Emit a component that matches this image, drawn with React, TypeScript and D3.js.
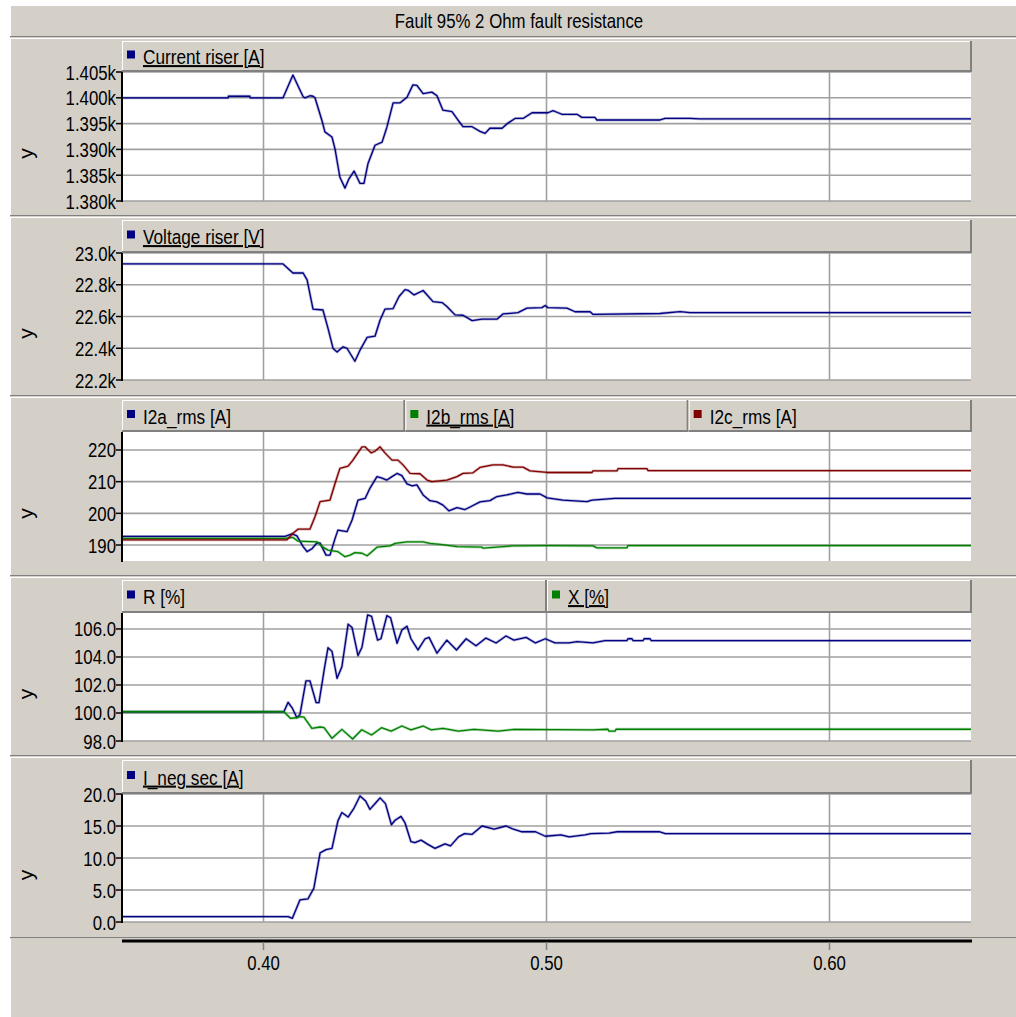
import React from 'react';
import * as d3 from 'd3';

type Pt = [number, number];

// ---------- data (time in s, value in units of the axis) ----------
const xTicks = [0.4, 0.5, 0.6];

const currentRiser: Pt[] = [
  [0.35, 1400.0], [0.3875, 1400.0], [0.3876, 1400.3], [0.3952, 1400.3], [0.3953, 1400.0], [0.4069, 1400.0],
  [0.4104, 1404.4], [0.414, 1400.2], [0.4147, 1400.0], [0.4164, 1400.4], [0.4175, 1400.3], [0.4182, 1400.0],
  [0.4207, 1395.5], [0.4217, 1393.4], [0.4242, 1392.4], [0.4253, 1390.0], [0.427, 1384.6], [0.4288, 1382.5],
  [0.4302, 1384.3], [0.432, 1385.8], [0.4341, 1383.4], [0.4355, 1383.4], [0.4369, 1387.2], [0.4394, 1390.8],
  [0.4419, 1391.4], [0.4436, 1394.3], [0.4458, 1399.0], [0.4482, 1399.0], [0.4507, 1400.1], [0.4528, 1402.5],
  [0.4542, 1402.4], [0.4564, 1400.8], [0.4595, 1401.1], [0.4613, 1400.4], [0.4634, 1397.6], [0.4666, 1397.3],
  [0.4687, 1395.7], [0.4705, 1394.4], [0.4737, 1394.4], [0.4765, 1393.5], [0.4783, 1393.1], [0.48, 1394.1],
  [0.4843, 1394.1], [0.4864, 1395.1], [0.4889, 1396.0], [0.4917, 1396.0], [0.4949, 1397.1], [0.5005, 1397.1],
  [0.5023, 1397.5], [0.5041, 1397.1], [0.5055, 1396.8], [0.5108, 1396.8], [0.5125, 1396.2], [0.5171, 1396.2],
  [0.5178, 1395.7], [0.5401, 1395.7], [0.5419, 1396.0], [0.5507, 1396.0], [0.5542, 1395.9], [0.65, 1395.9],
];

const voltageRiser: Pt[] = [
  [0.35, 22931], [0.4069, 22931], [0.4104, 22874], [0.414, 22874], [0.4154, 22831], [0.4175, 22646],
  [0.421, 22641], [0.4228, 22525], [0.4246, 22398], [0.426, 22376], [0.4281, 22409], [0.4295, 22400],
  [0.4323, 22318], [0.4341, 22388], [0.4366, 22468], [0.4394, 22476], [0.4412, 22578], [0.4429, 22646],
  [0.4458, 22650], [0.4479, 22726], [0.45, 22769], [0.4511, 22765], [0.4532, 22736], [0.4564, 22764],
  [0.4599, 22694], [0.4631, 22688], [0.4648, 22663], [0.4677, 22610], [0.4705, 22608], [0.4737, 22574],
  [0.4772, 22583], [0.4825, 22583], [0.4846, 22616], [0.4899, 22624], [0.4931, 22653], [0.4984, 22656],
  [0.4995, 22669], [0.5005, 22656], [0.5072, 22653], [0.5101, 22630], [0.5154, 22630], [0.5164, 22614],
  [0.5401, 22619], [0.5472, 22631], [0.5507, 22625], [0.65, 22625],
];

const i2a: Pt[] = [
  [0.35, 192.7], [0.4076, 192.7], [0.4101, 193.5], [0.4118, 192.9], [0.414, 189.5], [0.4154, 187.9],
  [0.4171, 188.8], [0.4189, 190.7], [0.42, 190.6], [0.4221, 186.8], [0.4235, 186.8], [0.4253, 192.1],
  [0.4263, 194.7], [0.4295, 194.2], [0.4313, 197.9], [0.4334, 204.2], [0.4359, 204.7], [0.4376, 207.9],
  [0.4401, 211.6], [0.4419, 211.1], [0.4436, 210.5], [0.4454, 211.6], [0.4472, 212.6], [0.4489, 211.9],
  [0.4507, 209.3], [0.4525, 208.7], [0.4542, 209.0], [0.4564, 205.8], [0.4588, 204.0], [0.4613, 203.6],
  [0.4634, 202.6], [0.4655, 200.8], [0.4684, 201.8], [0.4712, 201.2], [0.473, 202.0], [0.4765, 203.6],
  [0.48, 204.0], [0.4825, 205.3], [0.486, 205.8], [0.4899, 206.6], [0.4931, 206.1], [0.4977, 206.1],
  [0.5002, 204.9], [0.5058, 204.2], [0.5143, 203.7], [0.5161, 204.2], [0.5242, 204.7], [0.65, 204.7],
];

const i2b: Pt[] = [
  [0.35, 192.1], [0.4076, 192.1], [0.4104, 192.4], [0.4122, 191.2], [0.4189, 191.0], [0.4207, 189.5],
  [0.4228, 188.4], [0.4263, 187.9], [0.4288, 186.3], [0.4306, 186.8], [0.4323, 187.6], [0.4348, 187.4],
  [0.4366, 186.6], [0.4383, 187.9], [0.4401, 189.3], [0.4447, 189.7], [0.4465, 190.5], [0.4507, 191.0],
  [0.4564, 191.0], [0.4588, 190.5], [0.4624, 190.2], [0.4684, 189.5], [0.4772, 189.3], [0.4776, 189.0],
  [0.4878, 189.7], [0.5, 189.8], [0.5164, 189.7], [0.5178, 189.1], [0.5284, 189.1], [0.5288, 189.8],
  [0.65, 189.8],
];

const i2c: Pt[] = [
  [0.35, 191.6], [0.4083, 191.6], [0.4104, 193.7], [0.4122, 195.0], [0.4164, 195.0], [0.4182, 198.9],
  [0.42, 203.7], [0.4235, 204.2], [0.4253, 209.5], [0.427, 214.2], [0.4299, 214.9], [0.4316, 216.8],
  [0.4348, 221.0], [0.4359, 221.0], [0.438, 219.1], [0.4394, 219.6], [0.4412, 221.0], [0.4429, 219.1],
  [0.4454, 216.8], [0.4475, 216.8], [0.4493, 215.3], [0.4518, 212.6], [0.4553, 212.5], [0.4578, 210.5],
  [0.4595, 210.0], [0.4648, 210.5], [0.4684, 211.6], [0.4705, 212.6], [0.474, 212.8], [0.4765, 214.5],
  [0.4811, 215.3], [0.4846, 215.3], [0.4882, 214.6], [0.4917, 214.6], [0.4942, 213.4], [0.5002, 212.9],
  [0.5161, 212.9], [0.5164, 213.4], [0.5249, 213.4], [0.5253, 214.1], [0.5355, 214.1], [0.5359, 213.5],
  [0.65, 213.5],
];

const rPct: Pt[] = [
  [0.35, 100.09], [0.4072, 100.09], [0.4087, 100.76], [0.4102, 100.34], [0.4118, 99.66], [0.4129, 99.9],
  [0.415, 102.3], [0.4164, 102.3], [0.4186, 100.74], [0.4196, 100.74], [0.4217, 103.4], [0.4228, 104.66],
  [0.4242, 104.4], [0.426, 102.48], [0.4277, 103.3], [0.4299, 106.34], [0.4313, 106.1], [0.4334, 104.1],
  [0.4348, 104.7], [0.4368, 107.0], [0.4382, 106.9], [0.4403, 105.2], [0.4415, 105.3], [0.4436, 106.95],
  [0.4449, 106.8], [0.4472, 104.98], [0.4489, 105.93], [0.4507, 106.2], [0.4521, 105.3], [0.4546, 104.5],
  [0.4571, 105.3], [0.4585, 105.4], [0.4613, 104.27], [0.4648, 105.2], [0.4682, 104.5], [0.4716, 105.3],
  [0.4751, 104.8], [0.4786, 105.35], [0.4822, 105.0], [0.4857, 105.5], [0.4885, 105.2], [0.4928, 105.4],
  [0.4961, 105.0], [0.4996, 105.3], [0.503, 105.0], [0.508, 105.0], [0.5108, 105.1], [0.5164, 105.0],
  [0.5207, 105.17], [0.5284, 105.17], [0.5288, 105.3], [0.5302, 105.3], [0.5306, 105.17], [0.5341, 105.17],
  [0.5345, 105.3], [0.5366, 105.3], [0.537, 105.17], [0.65, 105.17],
];

const xPct: Pt[] = [
  [0.35, 100.09], [0.4072, 100.09], [0.4095, 99.62], [0.4115, 99.66], [0.4129, 99.74], [0.4143, 99.7],
  [0.4171, 98.9], [0.42, 99.0], [0.4214, 98.95], [0.4242, 98.19], [0.4277, 98.83], [0.4315, 98.14],
  [0.4347, 98.8], [0.4382, 98.43], [0.4417, 98.95], [0.4451, 98.7], [0.4489, 99.07], [0.4521, 98.8],
  [0.4564, 99.07], [0.4592, 98.8], [0.4634, 98.9], [0.4689, 98.7], [0.4744, 98.83], [0.4829, 98.7],
  [0.4885, 98.83], [0.5164, 98.8], [0.5217, 98.84], [0.5221, 98.7], [0.5242, 98.7], [0.5246, 98.84],
  [0.65, 98.84],
];

const iNegSec: Pt[] = [
  [0.35, 0.84], [0.4087, 0.84], [0.4102, 0.58], [0.4129, 3.46], [0.4157, 3.6], [0.4178, 5.3],
  [0.42, 10.8], [0.4221, 11.3], [0.4242, 11.5], [0.4263, 15.8], [0.4277, 17.1], [0.4299, 16.4],
  [0.432, 17.8], [0.4341, 19.7], [0.4361, 18.9], [0.4376, 17.6], [0.4396, 18.6], [0.4412, 19.4],
  [0.4431, 18.5], [0.4452, 15.2], [0.4465, 15.9], [0.4486, 16.5], [0.45, 15.5], [0.4521, 12.55],
  [0.4535, 12.4], [0.4557, 12.8], [0.4578, 12.2], [0.4606, 11.5], [0.4641, 12.2], [0.4661, 11.9],
  [0.4689, 13.3], [0.471, 13.8], [0.4737, 13.7], [0.4772, 15.0], [0.4815, 14.5], [0.4857, 15.0],
  [0.4878, 14.6], [0.4913, 14.1], [0.4961, 14.1], [0.4996, 13.4], [0.5051, 13.6], [0.508, 13.3],
  [0.5136, 13.6], [0.5157, 13.8], [0.5221, 13.9], [0.5249, 14.1], [0.54, 14.1], [0.542, 13.8],
  [0.65, 13.8],
];

const currentTicks = [1380, 1385, 1390, 1395, 1400, 1405];
const voltageTicks = [22200, 22400, 22600, 22800, 23000];
const i2Ticks = [190, 200, 210, 220];
const rxTicks = [98, 100, 102, 104, 106];
const iNegTicks = [0, 5, 10, 15, 20];

const title = 'Fault 95% 2 Ohm fault resistance';

// ---------- styling / layout ----------
const W = 1016;
const H = 1017;
const BG = '#d4d0c8';
const GRID = '#a0a0a0';
const SHADOW = '#808080';
const NAVY = '#000080';
const GREEN = '#008000';
const RED = '#800000';
const FONT = "'Liberation Sans', Arial, sans-serif";
const PLOT_L = 122;
const PLOT_R = 971;

interface SeriesCfg { name: string; color: string; data: Pt[]; underline: boolean }
interface PanelCfg {
  frameTop: number; frameBottom: number; plotTop: number; plotBottom: number;
  domain: [number, number]; ticks: number[]; fmt: (v: number) => string; series: SeriesCfg[];
}

const panels: PanelCfg[] = [
  {
    frameTop: 38, frameBottom: 216, plotTop: 72, plotBottom: 201,
    domain: [1380, 1405], ticks: currentTicks, fmt: (v) => (v / 1000).toFixed(3) + 'k',
    series: [{ name: 'Current riser [A]', color: NAVY, data: currentRiser, underline: true }],
  },
  {
    frameTop: 217, frameBottom: 396, plotTop: 253, plotBottom: 380,
    domain: [22200, 23000], ticks: voltageTicks, fmt: (v) => (v / 1000).toFixed(1) + 'k',
    series: [{ name: 'Voltage riser [V]', color: NAVY, data: voltageRiser, underline: true }],
  },
  {
    frameTop: 397, frameBottom: 576, plotTop: 432, plotBottom: 561,
    domain: [184.95, 225.68], ticks: i2Ticks, fmt: (v) => v.toFixed(0),
    series: [
      { name: 'I2a_rms [A]', color: NAVY, data: i2a, underline: false },
      { name: 'I2b_rms [A]', color: GREEN, data: i2b, underline: true },
      { name: 'I2c_rms [A]', color: RED, data: i2c, underline: false },
    ],
  },
  {
    frameTop: 577, frameBottom: 756, plotTop: 613, plotBottom: 741,
    domain: [98, 107.14], ticks: rxTicks, fmt: (v) => v.toFixed(1),
    series: [
      { name: 'R [%]', color: NAVY, data: rPct, underline: false },
      { name: 'X [%]', color: GREEN, data: xPct, underline: true },
    ],
  },
  {
    frameTop: 757, frameBottom: 938, plotTop: 794, plotBottom: 922,
    domain: [0, 20], ticks: iNegTicks, fmt: (v) => v.toFixed(1),
    series: [{ name: 'I_neg sec [A]', color: NAVY, data: iNegSec, underline: true }],
  },
];

const xScale = d3.scaleLinear().domain([0.35, 0.65]).range([PLOT_L, PLOT_R]);

// condensed text (the original uses a narrow, tightly spaced sans)
function CText(props: {
  x: number; y: number; size: number; sx: number; anchor?: string; underline?: boolean; children: string;
}) {
  const { x, y, size, sx, anchor, underline, children } = props;
  return (
    <text transform={`translate(${x},${y}) scale(${sx},1)`} textAnchor={anchor || 'start'} fontFamily={FONT}
      fontSize={size} fill="#000" textDecoration={underline ? 'underline' : undefined}>{children}</text>
  );
}

function Panel({ cfg, idx }: { cfg: PanelCfg; idx: number }) {
  const y = d3.scaleLinear().domain(cfg.domain).range([cfg.plotBottom, cfg.plotTop]);
  const line = d3.line<Pt>().x((d) => xScale(d[0])).y((d) => y(d[1]));
  const legendTop = cfg.frameTop + 3;
  const n = cfg.series.length;
  const segW = (PLOT_R + 1 - PLOT_L) / n;
  const plotMid = (cfg.plotTop + cfg.plotBottom) / 2;
  return (
    <g>
      {/* frame */}
      <rect x={10} y={cfg.frameTop} width={W - 10} height={cfg.frameBottom - cfg.frameTop} fill={BG} />
      <line x1={10} x2={W} y1={cfg.frameTop + 0.5} y2={cfg.frameTop + 0.5} stroke="#ffffff" />
      <line x1={10.5} x2={10.5} y1={cfg.frameTop} y2={cfg.frameBottom} stroke="#ffffff" />
      <line x1={10} x2={W} y1={cfg.frameBottom - 0.5} y2={cfg.frameBottom - 0.5} stroke={SHADOW} />
      {/* plot background */}
      <rect x={PLOT_L} y={cfg.plotTop} width={PLOT_R - PLOT_L} height={cfg.plotBottom - cfg.plotTop} fill="#ffffff" />
      {/* grid */}
      {cfg.ticks.map((t) => (
        <line key={'h' + t} x1={PLOT_L} x2={PLOT_R} y1={y(t)} y2={y(t)} stroke={GRID} strokeWidth={1.6} />
      ))}
      {xTicks.map((t) => (
        <line key={'v' + t} x1={xScale(t)} x2={xScale(t)} y1={cfg.plotTop} y2={cfg.plotBottom} stroke={GRID} strokeWidth={1.6} />
      ))}
      {/* series */}
      <clipPath id={`clip${idx}`}>
        <rect x={PLOT_L} y={cfg.plotTop - 1} width={PLOT_R - PLOT_L} height={cfg.plotBottom - cfg.plotTop + 2} />
      </clipPath>
      <g clipPath={`url(#clip${idx})`}>
        {cfg.series.map((s) => (
          <g key={s.name}>
            <path d={line(s.data) || ''} fill="none" stroke={s.color} strokeOpacity={0.3} strokeWidth={2.8} strokeLinejoin="round" />
            <path d={line(s.data) || ''} fill="none" stroke={s.color} strokeWidth={1.3} strokeLinejoin="round" />
          </g>
        ))}
      </g>
      {/* legend boxes */}
      {cfg.series.map((s, i) => {
        const x0 = PLOT_L + i * segW;
        const x1 = x0 + segW;
        const h = cfg.plotTop - legendTop;
        return (
          <g key={'lg' + s.name}>
            <rect x={x0} y={legendTop} width={x1 - x0} height={h} fill={BG} />
            <line x1={x0} x2={x1} y1={legendTop + 0.5} y2={legendTop + 0.5} stroke="#ffffff" />
            <line x1={x0 + 0.5} x2={x0 + 0.5} y1={legendTop} y2={cfg.plotTop} stroke="#ffffff" />
            <line x1={x0} x2={x1} y1={cfg.plotTop - 1} y2={cfg.plotTop - 1} stroke={SHADOW} strokeWidth={2} />
            <line x1={x1 - 1} x2={x1 - 1} y1={legendTop} y2={cfg.plotTop} stroke={SHADOW} strokeWidth={2} />
            <rect x={x0 + 5} y={legendTop + h / 2 - 6} width={8} height={8} fill={s.color} />
            <CText x={x0 + 21} y={legendTop + h / 2 + 7.5} size={20.5} sx={0.84} underline={s.underline}>{s.name}</CText>
          </g>
        );
      })}
      {/* y axis */}
      <line x1={PLOT_L} x2={PLOT_L} y1={cfg.plotTop} y2={cfg.plotBottom + 1} stroke="#000" strokeWidth={2} />
      {cfg.ticks.map((t) => (
        <g key={'t' + t}>
          <line x1={PLOT_L - 6} x2={PLOT_L} y1={y(t)} y2={y(t)} stroke="#000" strokeWidth={1.5} />
          <CText x={PLOT_L - 6} y={y(t) + 7.5} size={21} sx={0.8} anchor="end">{cfg.fmt(t)}</CText>
        </g>
      ))}
      <text transform={`translate(33,${plotMid + 17}) rotate(-90)`} textAnchor="middle" fontFamily={FONT}
        fontSize={21} fill="#000">y</text>
    </g>
  );
}

export default function App() {
  const axisY = 941;
  return (
    <div style={{ position: 'absolute', left: 0, top: 0 }}>
      <svg width={W} height={H} viewBox={`0 0 ${W} ${H}`} style={{ display: 'block' }}>
        <rect x={0} y={0} width={W} height={H} fill="#ffffff" />
        <rect x={10} y={5} width={W - 10} height={H - 5} fill={BG} />
        {/* title bar */}
        <line x1={10} x2={W} y1={5.5} y2={5.5} stroke="#ffffff" />
        <line x1={10.5} x2={10.5} y1={5} y2={36} stroke="#ffffff" />
        <line x1={10} x2={W} y1={36.5} y2={36.5} stroke={SHADOW} />
        <CText x={519} y={27.5} size={20.5} sx={0.82} anchor="middle">{title}</CText>
        {panels.map((p, i) => <Panel key={i} cfg={p} idx={i} />)}
        {/* x axis area */}
        <line x1={10.5} x2={10.5} y1={939} y2={H} stroke="#ffffff" />
        <line x1={PLOT_L} x2={PLOT_R + 1} y1={axisY} y2={axisY} stroke="#000" strokeWidth={3} />
        {xTicks.map((t) => (
          <g key={'xt' + t}>
            <line x1={xScale(t)} x2={xScale(t)} y1={axisY + 1} y2={axisY + 9} stroke={SHADOW} strokeWidth={1.5} />
            <CText x={xScale(t)} y={970} size={21} sx={0.8} anchor="middle">{t.toFixed(2)}</CText>
          </g>
        ))}
      </svg>
    </div>
  );
}
